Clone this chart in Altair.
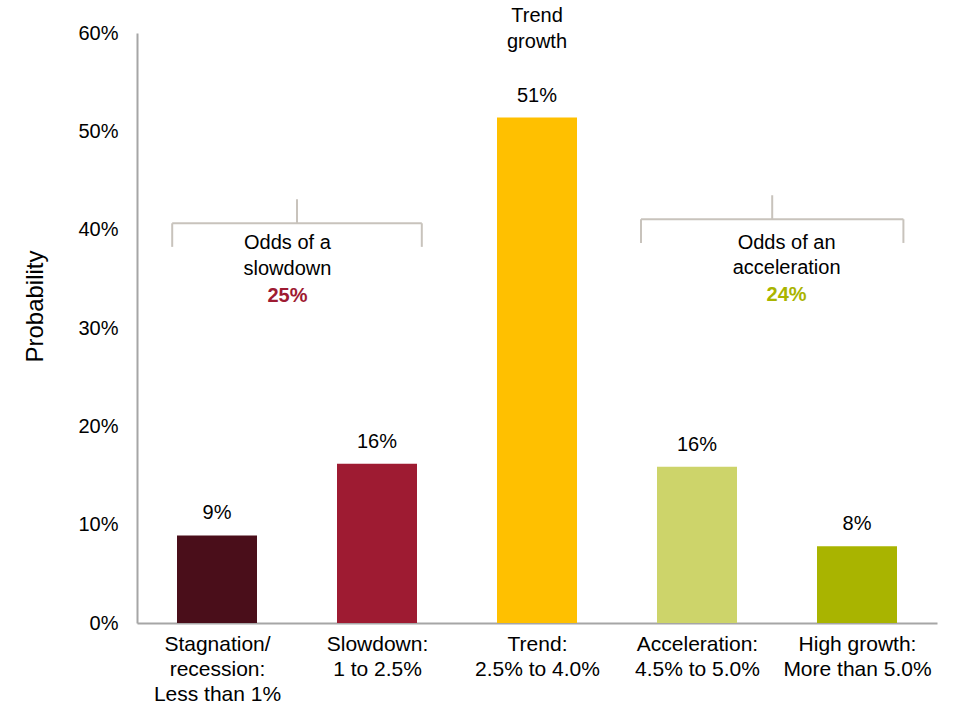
import json
import altair as alt
import pandas as pd

# ---- data ----
categories = [
    "Stagnation/\nrecession:\nLess than 1%",
    "Slowdown:\n1 to 2.5%",
    "Trend:\n2.5% to 4.0%",
    "Acceleration:\n4.5% to 5.0%",
    "High growth:\nMore than 5.0%",
]
probabilities = [8.9, 16.2, 51.4, 15.9, 7.8]
bar_colors = ["#4a0e1a", "#9e1b32", "#ffc000", "#cdd46a", "#a9b400"]
y_ticks = [0, 10, 20, 30, 40, 50, 60]

# bracket annotations (data coordinates: x in category units, y in %)
# index 0 = slowdown bracket, index 1 = acceleration bracket
bracket_start = [0.22, 3.15]
bracket_end = [1.78, 4.79]
bracket_stem_x = [1.0, 3.97]
bracket_y = [40.65, 41.06]
bracket_bottom = [38.25, 38.65]
bracket_top = [43.1, 43.5]

note_x = [0.94, 4.06]
note_lines = [["Odds of a", "slowdown"], ["Odds of an", "acceleration"]]
note_line_y = [[38.65, 36.0], [38.65, 36.1]]
note_pct = ["25%", "24%"]
note_pct_y = [33.26, 33.4]
note_pct_color = ["#9e1b32", "#a9b400"]

trend_note = ["Trend", "growth"]
trend_note_y = [61.7, 59.1]
trend_note_x = 2.5

FONT = "Liberation Sans, Arial, Helvetica, sans-serif"

bars = pd.DataFrame({
    "idx": list(range(len(categories))),
    "value": probabilities,
    "color": bar_colors,
})
bars["x0"] = bars["idx"] + 0.25
bars["x1"] = bars["idx"] + 0.75
bars["xc"] = bars["idx"] + 0.5
bars["base"] = 0.0
bars["label"] = [f"{round(v)}%" for v in probabilities]

label_list = json.dumps(categories)
x_axis = alt.Axis(
    values=[i + 0.5 for i in range(len(categories))],
    labelExpr=f"split({label_list}[floor(datum.value)], '\\n')",
    title=None, grid=False, ticks=False, domain=True,
    domainColor="#a6a6a6", domainWidth=2,
    labelFont=FONT, labelFontSize=21, labelColor="#000000",
    labelBaseline="top", labelPadding=10, labelLineHeight=25,
    labelAlign="center", labelOverlap=False, labelFlush=False,
)
y_axis = alt.Axis(
    values=y_ticks, labelExpr="datum.value + '%'",
    title="Probability", grid=False, ticks=False, domain=True,
    domainColor="#a6a6a6", domainWidth=2,
    labelFont=FONT, labelFontSize=20, labelColor="#000000", labelPadding=19,
    labelFlush=False, labelOverlap=False,
    titleFont=FONT, titleFontSize=24, titleFontWeight="normal", titleColor="#000000",
    titleAngle=-90, titleX=-102, titleY=273, titleAlign="center", titleBaseline="middle",
)

xs = alt.Scale(domain=[0, len(categories)], nice=False, zero=False)
ys = alt.Scale(domain=[0, 60], nice=False)

bar_layer = alt.Chart(bars).mark_bar().encode(
    x=alt.X("x0:Q", scale=xs, axis=x_axis),
    x2="x1:Q",
    y=alt.Y("value:Q", scale=ys, axis=y_axis),
    y2="base:Q",
    color=alt.Color("color:N", scale=None, legend=None),
)

value_text = alt.Chart(bars).mark_text(
    font=FONT, fontSize=20, color="#000000", baseline="middle", dy=-22
).encode(x=alt.X("xc:Q", scale=xs), y=alt.Y("value:Q", scale=ys), text="label:N")

# brackets: horizontal bars and vertical ticks/stems
h_df = pd.DataFrame({"x": bracket_start, "x2": bracket_end, "y": bracket_y})
v_rows = []
for i in range(2):
    v_rows.append({"x": bracket_start[i], "y": bracket_bottom[i], "y2": bracket_y[i]})
    v_rows.append({"x": bracket_end[i], "y": bracket_bottom[i], "y2": bracket_y[i]})
    v_rows.append({"x": bracket_stem_x[i], "y": bracket_y[i], "y2": bracket_top[i]})
v_df = pd.DataFrame(v_rows)

h_layer = alt.Chart(h_df).mark_rule(color="#c8c3bc", strokeWidth=2).encode(
    x=alt.X("x:Q", scale=xs), x2="x2:Q", y=alt.Y("y:Q", scale=ys),
)
v_layer = alt.Chart(v_df).mark_rule(color="#c8c3bc", strokeWidth=2).encode(
    x=alt.X("x:Q", scale=xs), y=alt.Y("y:Q", scale=ys), y2="y2:Q",
)

note_rows = []
for i in range(2):
    for t, yy in zip(note_lines[i], note_line_y[i]):
        note_rows.append({"x": note_x[i], "y": yy, "t": t})
for t, yy in zip(trend_note, trend_note_y):
    note_rows.append({"x": trend_note_x, "y": yy, "t": t})
notes_df = pd.DataFrame(note_rows)
notes_layer = alt.Chart(notes_df).mark_text(
    font=FONT, fontSize=20, color="#000000", baseline="middle"
).encode(x=alt.X("x:Q", scale=xs), y=alt.Y("y:Q", scale=ys), text="t:N")

pct_df = pd.DataFrame({"x": note_x, "y": note_pct_y, "t": note_pct, "c": note_pct_color})
pct_layer = alt.Chart(pct_df).mark_text(
    font=FONT, fontSize=20, fontWeight="bold", baseline="middle"
).encode(
    x=alt.X("x:Q", scale=xs), y=alt.Y("y:Q", scale=ys), text="t:N",
    color=alt.Color("c:N", scale=None, legend=None),
)

chart = alt.layer(bar_layer, value_text, h_layer, v_layer, notes_layer, pct_layer).properties(
    width=800, height=590,
    autosize=alt.AutoSizeParams(type="none"),
    padding={"left": 137, "top": 33, "right": 18, "bottom": 86},
    background="#ffffff",
).configure_view(stroke=None)

chart.save("out.html", embed_options={"renderer": "svg", "actions": False})
